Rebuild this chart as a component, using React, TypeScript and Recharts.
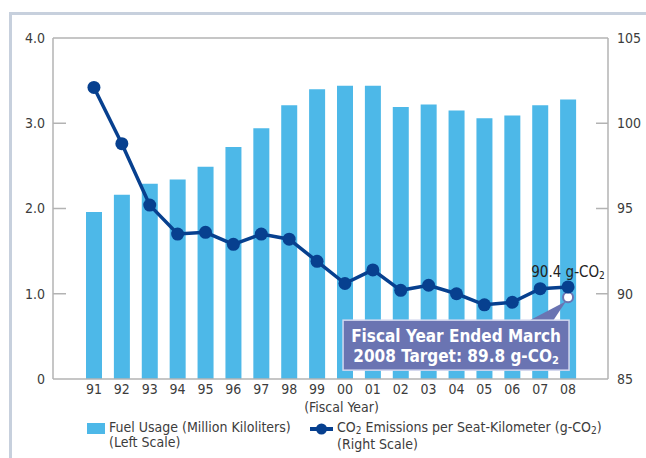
import {
  ComposedChart,
  Bar,
  Line,
  XAxis,
  YAxis,
  ReferenceLine,
  ReferenceDot,
  Legend,
} from 'recharts';

const FONT = "'Liberation Sans Narrow', 'DejaVu Sans Condensed', 'Roboto', Arial, sans-serif";
const BAR_COLOR = '#4db8e8';
const LINE_COLOR = '#07408f';
const BOX_COLOR = '#6a74b2';
const AXIS_COLOR = '#b3b3b3';
const TEXT_COLOR = '#3c3c3c';

const PLOT_LEFT = 53;
const PLOT_RIGHT = 608;

// fiscal years
const years = ['91', '92', '93', '94', '95', '96', '97', '98', '99', '00', '01', '02', '03', '04', '05', '06', '07', '08'];
// fuel usage, million kiloliters (left scale)
const fuelUsage = [1.96, 2.16, 2.29, 2.34, 2.49, 2.72, 2.94, 3.21, 3.4, 3.44, 3.44, 3.19, 3.22, 3.15, 3.06, 3.09, 3.21, 3.28];
// CO2 emissions per seat-km, g-CO2 (right scale)
const co2PerSeatKm = [102.1, 98.8, 95.2, 93.5, 93.6, 92.9, 93.5, 93.2, 91.9, 90.6, 91.4, 90.2, 90.5, 90.0, 89.35, 89.5, 90.3, 90.4];

const leftTicks = [0, 1, 2, 3, 4];
const rightTicks = [85, 90, 95, 100, 105];
const TARGET_YEAR = '08';
const TARGET_VALUE = 89.8;

const data = years.map((y, i) => ({ year: y, fuel: fuelUsage[i], co2: co2PerSeatKm[i] }));

function LeftTick({ y, payload }: any) {
  const v = payload.value as number;
  const inner = v !== leftTicks[0] && v !== leftTicks[leftTicks.length - 1];
  return (
    <g>
      {inner && <line x1={PLOT_LEFT} x2={PLOT_LEFT + 13} y1={y} y2={y} stroke={AXIS_COLOR} strokeWidth={1.5} />}
      <text x={PLOT_LEFT - 8} y={y} dy="0.35em" textAnchor="end" fontSize={14} fill={TEXT_COLOR} fontFamily={FONT}>
        {v === 0 ? '0' : v.toFixed(1)}
      </text>
    </g>
  );
}

function RightTick({ y, payload }: any) {
  const v = payload.value as number;
  const inner = v !== rightTicks[0] && v !== rightTicks[rightTicks.length - 1];
  return (
    <g>
      {inner && <line x1={PLOT_RIGHT - 12} x2={PLOT_RIGHT} y1={y} y2={y} stroke={AXIS_COLOR} strokeWidth={1.5} />}
      <text x={PLOT_RIGHT + 9} y={y} dy="0.35em" textAnchor="start" fontSize={14} fill={TEXT_COLOR} fontFamily={FONT}>
        {v}
      </text>
    </g>
  );
}

function FiscalYearLabel({ viewBox }: any) {
  return (
    <text
      x={viewBox.x + viewBox.width / 2 + 11}
      y={viewBox.y + 33}
      textAnchor="middle"
      fontSize={14}
      fill={TEXT_COLOR}
      fontFamily={FONT}
    >
      (Fiscal Year)
    </text>
  );
}

function lastPointLabel({ x, y, index }: any) {
  if (index !== years.length - 1) return null;
  return (
    <text x={x} y={y - 10} textAnchor="middle" fontSize={15} fill="#222" fontFamily={FONT}>
      {co2PerSeatKm[index].toFixed(1)} g-CO
      <tspan fontSize={10} dy={2}>2</tspan>
    </text>
  );
}

// white target circle + callout box
function TargetCallout({ cx, cy }: any) {
  const bx = cx - 225;
  const by = cy + 23;
  return (
    <g>
      <polygon
        points={`${cx - 42},${by + 2} ${cx - 16},${by + 2} ${cx - 2},${cy + 4}`}
        fill={BOX_COLOR}
      />
      <rect x={bx} y={by} width={226} height={50} fill={BOX_COLOR} stroke="#d4d8ef" strokeWidth={1.5} />
      <text x={bx + 113} y={by + 22} textAnchor="middle" fontSize={17} fontWeight="bold" fill="#fff" fontFamily={FONT}>
        Fiscal Year Ended March
      </text>
      <text x={bx + 113} y={by + 42} textAnchor="middle" fontSize={17} fontWeight="bold" fill="#fff" fontFamily={FONT}>
        2008 Target: {TARGET_VALUE} g-CO
        <tspan fontSize={11} dy={2}>2</tspan>
      </text>
      <circle cx={cx} cy={cy} r={5} fill="#fff" stroke={BOX_COLOR} strokeWidth={2} />
    </g>
  );
}

function LegendContent() {
  const txt: React.CSSProperties = { fontSize: 14, lineHeight: '14.5px', color: TEXT_COLOR, fontFamily: FONT };
  return (
    <div style={{ position: 'relative', width: 560, height: 34 }}>
      <div style={{ position: 'absolute', left: 0, top: 3, width: 18, height: 11, background: BAR_COLOR }} />
      <div style={{ position: 'absolute', left: 22, top: 0, ...txt }}>
        Fuel Usage (Million Kiloliters)
        <br />
        (Left Scale)
      </div>
      <svg style={{ position: 'absolute', left: 222, top: 2 }} width={25} height={14}>
        <line x1={1} x2={24} y1={7} y2={7} stroke={LINE_COLOR} strokeWidth={4} />
        <circle cx={12.5} cy={7} r={5.5} fill={LINE_COLOR} />
      </svg>
      <div style={{ position: 'absolute', left: 250, top: 0, ...txt, whiteSpace: 'nowrap' }}>
        CO<sub style={{ fontSize: 10, verticalAlign: 'baseline', position: 'relative', top: 2 }}>2</sub> Emissions per
        Seat-Kilometer (g-CO<sub style={{ fontSize: 10, verticalAlign: 'baseline', position: 'relative', top: 2 }}>2</sub>)
        <br />
        (Right Scale)
      </div>
    </div>
  );
}

export default function App() {
  return (
    <div style={{ position: 'absolute', left: 0, top: 0, width: 646, height: 458, background: '#fff' }}>
      <div
        style={{
          position: 'absolute',
          left: 9,
          top: 12,
          right: 0,
          bottom: 0,
          borderTop: '3px solid #c7d0dd',
          borderLeft: '3px solid #c7d0dd',
        }}
      />
      <ComposedChart
        width={646}
        height={458}
        data={data}
        margin={{ top: 38, right: 0, bottom: 0, left: 0 }}
        style={{ position: 'absolute', left: 0, top: 0 }}
      >
        <XAxis
          dataKey="year"
          height={79}
          padding={{ left: 27, right: 26 }}
          axisLine={{ stroke: AXIS_COLOR, strokeWidth: 1.5 }}
          tickLine={false}
          tickSize={0}
          tickMargin={5}
          tick={{ fontSize: 14, fill: TEXT_COLOR, fontFamily: FONT }}
          interval={0}
          label={<FiscalYearLabel />}
        />
        <YAxis
          yAxisId="left"
          width={53}
          domain={[0, 4]}
          ticks={leftTicks}
          axisLine={{ stroke: AXIS_COLOR, strokeWidth: 1.5 }}
          tickLine={false}
          tick={<LeftTick />}
        />
        <YAxis
          yAxisId="right"
          orientation="right"
          width={38}
          domain={[85, 105]}
          ticks={rightTicks}
          axisLine={{ stroke: AXIS_COLOR, strokeWidth: 1.5 }}
          tickLine={false}
          tick={<RightTick />}
        />
        <ReferenceLine yAxisId="left" y={4} stroke={AXIS_COLOR} strokeWidth={1.5} />
        <Bar yAxisId="left" dataKey="fuel" fill={BAR_COLOR} barSize={16} isAnimationActive={false} />
        <Line
          yAxisId="right"
          dataKey="co2"
          stroke={LINE_COLOR}
          strokeWidth={3.5}
          dot={{ r: 6.5, fill: LINE_COLOR, stroke: LINE_COLOR, strokeWidth: 0 }}
          activeDot={false}
          label={lastPointLabel}
          isAnimationActive={false}
        />
        <ReferenceDot
          yAxisId="right"
          x={TARGET_YEAR}
          y={TARGET_VALUE}
          shape={(p: any) => <TargetCallout {...p} />}
        />
        <Legend
          layout="horizontal"
          verticalAlign="middle"
          align="center"
          content={<LegendContent />}
          wrapperStyle={{ position: 'absolute', left: 87, top: 420, width: 560 }}
        />
      </ComposedChart>
    </div>
  );
}
